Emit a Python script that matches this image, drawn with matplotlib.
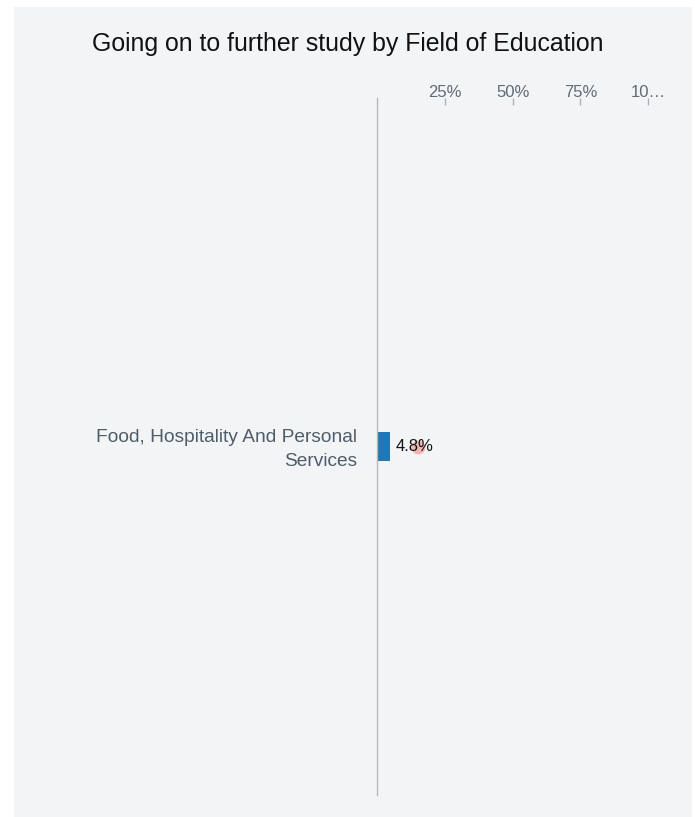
import matplotlib.pyplot as plt
from matplotlib.patches import Rectangle

# data
categories = ['Food, Hospitality And Personal\nServices']
values = [4.8]          # % going on to further study
benchmark = [15.0]      # pink marker
tick_vals = [25, 50, 75, 100]
tick_labels = ['25%', '50%', '75%', '10…']

plt.rcParams['font.family'] = ['Liberation Sans', 'DejaVu Sans']

W, H = 695, 817
fig = plt.figure(figsize=(W / 100, H / 100), dpi=100)
fig.patch.set_facecolor('white')

# grey card behind the chart
fig.patches.append(Rectangle((14 / W, 0), (692 - 14) / W, 1 - 7 / H,
                             transform=fig.transFigure, facecolor='#f3f4f6',
                             edgecolor='none', zorder=-5))

fig.text(348 / W, 1 - 43.5 / H, 'Going on to further study by Field of Education',
         ha='center', va='center', fontsize=17.9, color='#111111')

x0, x100 = 377.5, 648.0
left = x0 / W
width = (x100 - x0) / W
bottom = 1 - 795 / H
top = 1 - 98 / H
ax = fig.add_axes([left, bottom, width, top - bottom])
ax.set_facecolor('none')
ax.set_xlim(0, 100)
ax.set_ylim(-0.5, 0.5)

y = list(range(len(categories)))
ax.barh(y, values, height=0.042, color='#1f77b4', zorder=2)
ax.plot(benchmark, y, 'o', color='#f28b8b', alpha=0.6, markersize=10,
        markeredgewidth=0, zorder=3, clip_on=False)
for yi, v in zip(y, values):
    ax.annotate(f'{v}%', (v, yi), xytext=(4, 0), textcoords='offset points',
                ha='left', va='center', fontsize=12, color='#111111', zorder=4)
    ax.text(-20 / (x100 - x0) * 100, yi - 0.004, categories[yi], ha='right',
            va='center', fontsize=13.8, color='#4f5d6a', linespacing=1.5)

for s in ['top', 'right', 'bottom']:
    ax.spines[s].set_visible(False)
ax.spines['left'].set_color('#b8b8b8')
ax.spines['left'].set_linewidth(1)

ax.xaxis.tick_top()
ax.set_xticks(tick_vals)
ax.set_xticklabels(tick_labels)
ax.tick_params(axis='x', direction='in', length=5, width=1, color='#a9b4c0',
               labelcolor='#5f6b77', labelsize=12, pad=-1.5)
ax.set_yticks([])

fig.savefig('out.png', dpi=100)
